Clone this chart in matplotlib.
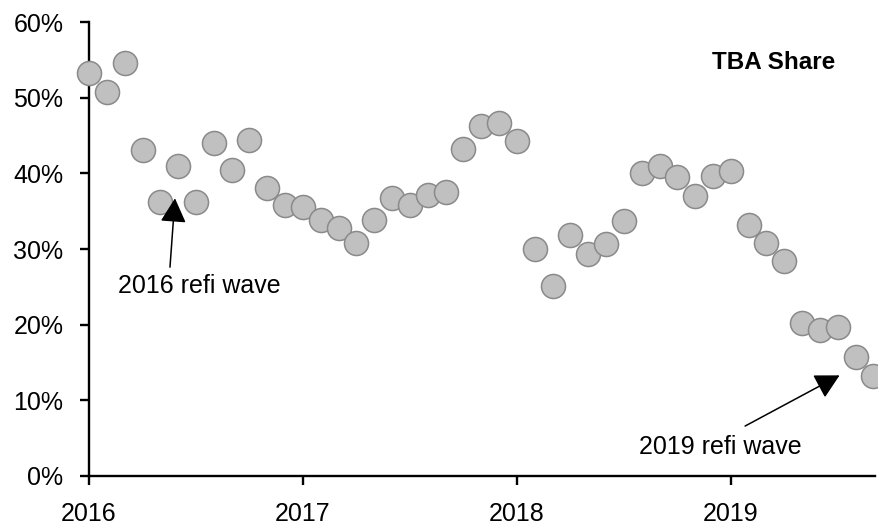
import numpy as np
import matplotlib
matplotlib.use("Agg")
import matplotlib.pyplot as plt

plt.rcParams['font.family'] = ['Liberation Sans', 'DejaVu Sans']

# monthly TBA share (%), Jan 2016 - Sep 2019
tba_share = [53.3, 50.7, 54.6, 43.1, 36.2, 41.0, 36.2, 44.0, 40.4, 44.4, 38.1, 35.8,
             35.5, 33.8, 32.8, 30.8, 33.8, 36.7, 35.8, 37.1, 37.5, 43.2, 46.3, 46.6,
             44.3, 30.0, 25.1, 31.8, 29.3, 30.7, 33.7, 40.0, 41.0, 39.5, 37.0, 39.6,
             40.3, 33.2, 30.8, 28.4, 20.2, 19.3, 19.7, 15.7, 13.2]
year_labels = ["2016", "2017", "2018", "2019"]
y_ticks = [0, 10, 20, 30, 40, 50, 60]

months = np.arange(len(tba_share))

fig = plt.figure(figsize=(8.79, 5.28), dpi=100)
ax = fig.add_axes([0.1013, 0.0985, 0.894, 0.8598])

ax.scatter(months, tba_share, s=300, facecolor='#c0c0c0', edgecolor='#8a8a8a',
           linewidth=1.1, clip_on=False, zorder=3)

ax.set_xlim(0, 44.08)
ax.set_ylim(0, 60)
ax.set_xticks([0, 12, 24, 36])
ax.set_xticklabels(year_labels)
ax.set_yticks(y_ticks)
ax.set_yticklabels([f"{v}%" for v in y_ticks])

for side in ['top', 'right']:
    ax.spines[side].set_visible(False)
for side in ['left', 'bottom']:
    ax.spines[side].set_linewidth(1.7)
ax.tick_params(axis='both', direction='out', length=6.5, width=1.7,
               labelsize=18, pad=12, colors='black')

ax.text(0.871, 0.91, "TBA Share", transform=ax.transAxes, fontsize=17.5,
        fontweight='bold', ha='center', va='center')

arrow = dict(arrowstyle='-|>,head_length=0.75,head_width=0.4', color='black',
             lw=1.1, mutation_scale=20, shrinkA=0, shrinkB=0)
ax.annotate("", xy=(4.82, 36.7), xytext=(4.54, 27.6), arrowprops=arrow)
ax.text(6.17, 25.1, "2016 refi wave", fontsize=18, ha='center', va='center')

ax.annotate("", xy=(42.1, 13.3), xytext=(36.8, 6.6), arrowprops=arrow)
ax.text(35.4, 3.8, "2019 refi wave", fontsize=18, ha='center', va='center')

fig.savefig("out.png", dpi=100)
